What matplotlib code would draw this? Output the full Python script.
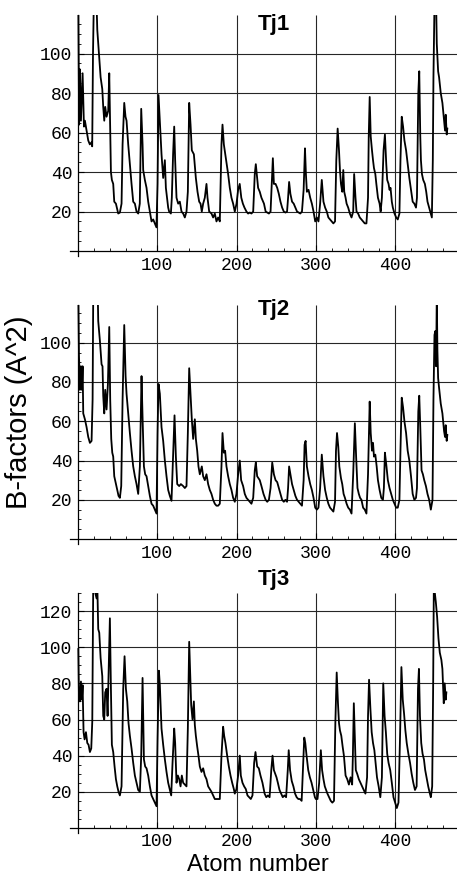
import matplotlib
matplotlib.use("Agg")
import matplotlib.pyplot as plt
from matplotlib.ticker import FixedLocator, MultipleLocator

# B-factor profiles (atom number, B in A^2)
tj1_atom = [
    0.5, 1.5, 2.5, 3.8, 5.9, 7.6, 8.8, 13, 15, 17,
    18, 19, 20, 23.5, 24.4, 25.6, 26.9, 28.6, 30.7, 31.9,
    33.2, 34.4, 36.1, 38.2, 39.5, 40.7, 41.6, 42.8, 44.5, 45.8,
    47.9, 50.8, 52.9, 55, 56.3, 58.4, 60, 61.3, 63.4, 65.5,
    67.6, 69.7, 71.8, 73.9, 76, 78, 79.8, 81.5, 82.3, 84.4,
    86.5, 88.6, 90.7, 92.8, 94.9, 97, 99, 100.4, 101.6, 103.3,
    105.4, 107.5, 109.6, 110.9, 113.8, 115, 117.2, 118.4, 120, 121.4,
    122.6, 124.3, 126.4, 128.5, 130.6, 132.7, 134.8, 136.9, 138.6, 140.3,
    142, 143.6, 146.2, 148.7, 150.8, 152.9, 154.6, 156.2, 157.9, 160,
    162.1, 163.4, 165.5, 168.4, 170.5, 172.6, 174.7, 176.8, 178.9, 181,
    182.3, 184, 186.5, 189.4, 191.5, 193.6, 195.7, 197.8, 200, 202,
    204, 206, 208, 210, 212.5, 214.6, 216.7, 218.8, 221, 223,
    224.3, 227.2, 229.3, 231.4, 234.6, 236.7, 238.7, 240.8, 242.9, 244.2,
    245.8, 247.1, 249.2, 251.3, 253.3, 255.4, 257.5, 259.6, 261.7, 263.7,
    265, 266.3, 267.9, 270, 272.1, 274.2, 276.3, 278.3, 280.4, 282.5,
    284.6, 286.3, 287.5, 288.7, 290.8, 292.9, 295, 297.1, 299.2, 301.3,
    303.3, 305.4, 307.5, 309.6, 311.7, 313.8, 315.8, 317.9, 320, 322.1,
    324.2, 325.8, 327.5, 329.2, 330.4, 331.7, 333.3, 334.6, 335.8, 337.5,
    338.8, 340.8, 342.9, 345, 347.1, 348.3, 350, 351.3, 353.3, 355.4,
    357.5, 359.6, 361.7, 363.8, 365.8, 366.7, 367.9, 369.2, 370.8, 372.1,
    373.3, 375, 376.3, 378.3, 380.4, 381.7, 383.3, 385.4, 387.1, 388.8,
    390, 391.7, 392.9, 394.2, 395.8, 397.1, 399.2, 401.3, 403.3, 405.4,
    406.7, 408.3, 410, 411.7, 413.8, 415.8, 417.9, 420, 422.1, 424.2,
    426.3, 427.5, 429.2, 430.4, 431.7, 432.5, 433.8, 435.4, 437.5, 439.2,
    440.8, 442.9, 445, 446.3, 447.5, 448.3, 449.6, 451.7, 452.5, 454.2,
    455.4, 457.5, 459.6, 461.7, 462.9, 463.8, 465, 465.8,
]
tj1_bfac = [
    125, 64, 92, 66, 90, 63, 66, 56, 54, 55,
    53, 100, 125, 125, 112, 105, 98, 88, 82, 73,
    66, 73, 68, 71, 90, 63, 40, 36, 34, 25,
    24, 19, 19.5, 24, 54, 75, 68, 66, 54, 44,
    34, 25, 24, 20, 19, 24, 72, 54, 41, 36,
    32, 25, 20, 15, 16, 14, 12, 34, 79, 66,
    49, 37, 46, 32, 22, 20, 19, 27, 49, 63,
    46, 27, 24, 25, 20, 19, 17, 20, 30, 75,
    64, 51, 49, 37, 30, 25, 24, 20, 24, 27,
    34, 27, 20, 19, 17, 19, 15, 17, 15, 54,
    64, 54, 47, 39, 32, 27, 24, 20, 24, 31,
    34, 27, 24, 22, 20, 19, 19.5, 19, 20, 39,
    44, 32, 30, 27, 24, 20, 19.5, 19, 20, 32,
    47, 34, 34, 32, 29, 25, 22, 20, 19.5, 20,
    27, 35, 29, 25, 24, 22, 20, 19.5, 19, 20,
    31, 52, 39, 30, 31, 27, 24, 20, 15, 17,
    15, 24, 36, 25, 22, 20, 17, 16, 15, 14,
    15, 46, 62, 51, 41, 34, 30, 41, 30, 27,
    24, 22, 19, 17, 20, 39, 27, 20, 19, 17,
    16, 15, 14, 14, 27, 58, 78, 58, 51, 46,
    42, 39, 34, 27, 24, 20, 27, 51, 59, 44,
    36, 34, 31, 32, 25, 22, 19, 17, 16, 19,
    46, 68, 63, 56, 51, 44, 37, 31, 25, 24,
    22, 27, 80, 91, 58, 46, 39, 36, 34, 30,
    25, 22, 19, 17, 46, 88, 125, 125, 105, 91,
    88, 80, 75, 66, 61, 69, 59, 62,
]

tj2_atom = [
    0.5, 1.3, 2.5, 3.8, 5, 5.9, 6.7, 8.8, 10.9, 13,
    15.1, 17.2, 18.5, 19.3, 25, 25.6, 27.7, 29.8, 31, 31.9,
    33.2, 34.4, 36.1, 37.8, 39.5, 40.7, 42, 43.3, 44.5, 45.8,
    47.9, 49.6, 51.2, 52.9, 54.6, 56.3, 58.4, 60.1, 61.3, 63.4,
    65.5, 67.6, 69.7, 71.8, 73.9, 76, 78.1, 80.2, 81.5, 83.2,
    84.8, 86.5, 88.6, 90.7, 92.8, 94.9, 97, 99.1, 100.4, 101.6,
    103.3, 105.4, 107.5, 109.6, 111.7, 113.8, 115.9, 118, 120.1, 121.8,
    123.5, 125.2, 127.7, 129.8, 132.7, 134.8, 136.9, 138.6, 140.3, 142,
    143.6, 145.3, 147.4, 148.7, 150.4, 152, 153.7, 156.2, 157.9, 160,
    162.1, 164.2, 166.3, 168.4, 170.5, 172.6, 174.7, 176.8, 178.9, 181,
    182.3, 184, 185.6, 187.3, 189.4, 191.5, 193.6, 195.7, 197.8, 199.9,
    202, 204.1, 205.8, 208.3, 210.4, 212.5, 214.6, 216.7, 218.8, 221,
    223, 224.3, 226, 229.3, 231.4, 234, 236.7, 238.7, 240.8, 242.9,
    245, 247.1, 249.2, 251.3, 253.3, 255.4, 257.5, 259.6, 261.7, 263.7,
    265, 266.3, 267.9, 270, 272.1, 274.2, 276.3, 278.3, 280.4, 282.5,
    284.6, 285.8, 287.1, 288.7, 290.8, 292.9, 295, 297.1, 299.2, 301.3,
    303.3, 305.4, 307.5, 309.6, 311.7, 313.8, 315.8, 317.9, 320, 322.1,
    324.2, 325.4, 326.7, 328.3, 329.6, 331.7, 333.3, 335, 336.7, 338.8,
    340.8, 342.9, 345, 347.1, 349.2, 350.8, 352.5, 354.2, 355.8, 357.5,
    359.6, 361.7, 363.8, 365.8, 367.9, 369.2, 370.8, 372.1, 373.3, 375,
    376.7, 378.3, 380.4, 382.5, 384.6, 385.8, 387.1, 388.8, 390.8, 392.9,
    395, 397.1, 399.2, 401.3, 403.3, 405.4, 406.7, 408.3, 410, 411.7,
    413.8, 415.8, 417.9, 420, 422.1, 424.2, 426.3, 427.5, 429.2, 430.4,
    431.7, 433.3, 435, 436.7, 438.8, 440.8, 442.9, 445, 447.1, 448.3,
    449.6, 450.8, 451.7, 452.5, 453.3, 454.2, 455.4, 457.5, 459.6, 461.7,
    462.9, 463.8, 465, 465.8,
]
tj2_bfac = [
    125, 94, 76, 88, 76, 88, 64, 61, 57, 52,
    49, 50, 71, 125, 125, 111, 101, 89, 88, 73,
    64, 76, 66, 79, 108, 71, 51, 44, 42, 32,
    28, 25, 22, 21, 27, 71, 109, 83, 74, 64,
    54, 45, 37, 32, 28, 23, 37, 83, 62, 37,
    33, 32, 27, 22, 18, 17, 15, 13, 54, 79,
    74, 57, 50, 40, 32, 25, 22, 19.5, 44, 63,
    42, 28, 27, 28, 27, 26, 27, 54, 87, 74,
    61, 51, 61, 51, 45, 37, 33, 37, 32, 30,
    33, 28, 25, 23, 20, 18, 17, 17, 18, 37,
    54, 44, 45, 37, 32, 28, 25, 21, 19, 23,
    33, 40, 30, 27, 23, 21, 20, 19, 18, 21,
    35, 39, 32, 30, 27, 23, 20, 19, 20, 26,
    39, 33, 30, 29, 26, 23, 20, 19, 20, 19,
    26, 37, 33, 28, 25, 22, 20, 19, 18, 17,
    30, 48, 50, 37, 32, 28, 25, 21, 16, 15,
    16, 26, 43, 32, 25, 21, 18, 16, 15, 14,
    19, 45, 54, 47, 37, 31, 28, 23, 21, 18,
    16, 15, 13, 33, 59, 42, 26, 23, 21, 20,
    16, 15, 13, 33, 70, 54, 45, 49, 42, 43,
    37, 30, 25, 21, 20, 26, 44, 38, 30, 26,
    23, 20, 18, 16, 16, 20, 45, 72, 67, 60,
    54, 45, 40, 32, 23, 20, 21, 26, 65, 73,
    57, 35, 33, 30, 27, 23, 20, 15, 20, 71,
    104, 106, 88, 125, 96, 82, 77, 69, 64, 55,
    52, 58, 50, 53,
]

tj3_atom = [
    0.5, 1.3, 2.5, 3.8, 5, 5.9, 7.1, 8.4, 10.1, 11.8,
    13.4, 15.1, 16.8, 18.1, 19.3, 23.5, 24.4, 25.6, 26.9, 28.6,
    30.7, 31.9, 33.2, 34.4, 36.1, 37.4, 39.1, 40.3, 41.6, 42.8,
    44.5, 46.2, 47.9, 49.6, 51.2, 52.9, 55, 57.1, 58.8, 60.5,
    62.2, 63.8, 65.5, 67.6, 69.7, 71.8, 73.9, 76, 78.1, 79.8,
    81.5, 83.2, 84.8, 86.5, 88.6, 90.7, 92.8, 94.9, 97, 99.1,
    100.4, 102.1, 103.3, 105.4, 107.5, 109.6, 111.7, 113.8, 115.9, 117.6,
    119.3, 121.4, 122.6, 124.3, 126, 127.7, 129.4, 131, 132.7, 134.8,
    136.9, 138.6, 140.3, 141.5, 142.8, 144.5, 146.2, 147.4, 148.7, 150.4,
    152, 153.7, 155.8, 157.9, 160, 162.1, 164.2, 166.3, 168.4, 170.5,
    172.6, 174.7, 176.8, 178.9, 181, 183.1, 184.4, 186, 188.2, 190.3,
    192.4, 194.5, 196.6, 197.8, 199.9, 202, 204.1, 205.4, 207.5, 209.6,
    211.7, 213.8, 215.9, 218, 220.1, 222.2, 223.9, 226, 228.1, 230.2,
    232.7, 235.4, 237.5, 239.6, 241.7, 243.8, 245.4, 247.1, 248.8, 250.4,
    252.1, 254.2, 256.3, 258.3, 260.4, 262.5, 264.6, 265.8, 267.5, 269.6,
    271.7, 273.8, 275.8, 277.9, 280, 282.1, 283.3, 285.4, 286.7, 288.3,
    290.4, 292.5, 294.6, 296.7, 298.8, 300, 302.1, 304.2, 306.3, 307.9,
    309.6, 311.3, 312.9, 314.6, 316.7, 318.8, 320.8, 322.9, 324.6, 326.3,
    327.9, 329.2, 330.4, 332.1, 333.8, 335.4, 337.5, 339.6, 341.7, 343.8,
    345.8, 346.7, 347.9, 349.2, 350.4, 352.1, 354.2, 356.3, 358.3, 360.4,
    362.5, 364.6, 365.8, 367.1, 368.8, 370.4, 372.1, 373.8, 375.4, 377.1,
    379.2, 381.3, 383.3, 385, 386.7, 388.3, 390, 391.7, 393.8, 395.8,
    397.9, 400, 402.1, 404.2, 406.3, 407.9, 409.6, 411.3, 412.9, 414.6,
    416.7, 418.8, 420.8, 422.9, 425, 427.1, 428.8, 430, 431.3, 432.9,
    434.6, 436.3, 437.9, 439.6, 441.7, 443.8, 445, 446.7, 447.9, 448.8,
    451.3, 452.9, 454.6, 456.3, 458.3, 459.6, 461.3, 462.5, 463.8, 464.6,
]
tj3_bfac = [
    99, 73, 70, 81, 71, 79, 53, 49, 53, 47,
    46, 42, 44, 59, 135, 127, 135, 110, 108, 94,
    84, 62, 60, 75, 77, 62, 95, 116, 77, 46,
    42, 34, 27, 23, 20, 18, 23, 77, 95, 77,
    70, 58, 51, 44, 36, 29, 25, 21, 20, 40,
    83, 38, 34, 33, 29, 23, 18, 16, 14, 12,
    49, 87, 79, 55, 46, 38, 31, 25, 21, 18,
    36, 55, 47, 25, 29, 27, 23, 29, 25, 24,
    23, 55, 103, 86, 68, 60, 70, 57, 51, 45,
    40, 34, 31, 33, 29, 27, 23, 21.5, 20, 18,
    16, 16, 16, 16, 40, 56, 51, 47, 40, 34,
    29, 25, 21.5, 19, 21.5, 29, 40, 29, 25, 23,
    21.5, 18, 17, 16, 18, 36, 42, 34, 33, 29,
    25, 19, 17, 18, 17, 32, 40, 32, 30, 28,
    25, 21, 19, 17, 18, 17, 32, 43, 32, 26,
    23, 19, 17, 16, 16, 15, 28, 50, 47, 40,
    32, 28, 25, 21, 17, 16, 16, 25, 43, 32,
    27, 23, 21, 19, 17, 15, 14, 15, 58, 86,
    69, 58, 54, 51, 45, 40, 29, 27, 24, 28,
    24, 40, 69, 49, 32, 30, 27, 25, 23, 21,
    19, 28, 62, 82, 66, 53, 47, 43, 36, 28,
    23, 17, 28, 80, 62, 53, 41, 36, 32, 25,
    17, 14, 11, 14, 53, 89, 71, 63, 54, 47,
    41, 36, 30, 25, 21, 23, 77, 88, 62, 47,
    41, 38, 32, 28, 23, 19, 17, 23, 77, 135,
    125, 117, 105, 97, 93, 88, 69, 80, 71, 75,
]

panel_names = ["Tj1", "Tj2", "Tj3"]
x_ticks = [100, 200, 300, 400]
y_ticks_12 = [20, 40, 60, 80, 100]
y_ticks_3 = [20, 40, 60, 80, 100, 120]

plt.rcParams["font.family"] = "Liberation Sans"

fig = plt.figure(figsize=(4.57, 8.76), dpi=100)
W, H = 457.0, 876.0

# (top px, bottom px, ymin, ymax, title baseline px)
layout = [
    (15, 256, -2.5, 119.5, 30),
    (305, 544, -2.5, 119.2, 315),
    (593, 833, -2.8, 130.0, 585),
]
series = [(tj1_atom, tj1_bfac), (tj2_atom, tj2_bfac), (tj3_atom, tj3_bfac)]
yticks_all = [y_ticks_12, y_ticks_12, y_ticks_3]

for i in range(3):
    top, bot, ymin, ymax, tbase = layout[i]
    ax = fig.add_axes([70 / W, 1 - bot / H, 387 / W, (bot - top) / H])
    ax.set_xlim(-10, 478)
    ax.set_ylim(ymin, ymax)

    yt = yticks_all[i]
    # grid only inside the first quadrant, like the original
    ax.hlines(yt, 0, 478, color="0.15", lw=0.8, zorder=1)
    ax.vlines(x_ticks, 0, ymax, color="0.15", lw=0.8, zorder=1)

    ax.plot(series[i][0], series[i][1], color="black", lw=1.3, zorder=3)

    for side in ("top", "right"):
        ax.spines[side].set_visible(False)
    ax.spines["left"].set_position(("data", 0))
    ax.spines["bottom"].set_position(("data", 0))
    ax.spines["left"].set_linewidth(0.9)
    ax.spines["bottom"].set_linewidth(0.9)

    ax.xaxis.set_major_locator(FixedLocator(x_ticks))
    ax.xaxis.set_minor_locator(MultipleLocator(20))
    ax.yaxis.set_major_locator(FixedLocator(yt))
    ax.yaxis.set_minor_locator(MultipleLocator(5))
    ax.tick_params(which="major", direction="in", length=4, width=0.8, labelsize=13, pad=4)
    ax.tick_params(which="minor", direction="in", length=2.5, width=0.6)
    for lab in ax.get_xticklabels() + ax.get_yticklabels():
        lab.set_fontfamily("Liberation Mono")

    fig.text(274 / W, 1 - tbase / H, panel_names[i], ha="center", va="baseline",
             fontsize=16, fontweight="bold")

fig.text(19 / W, 1 - 412 / H, "B-factors (A^2)", rotation=90, ha="center", va="center",
         fontsize=21)
fig.text(258 / W, 1 - 871 / H, "Atom number", ha="center", va="baseline", fontsize=17)

fig.savefig("out.png", dpi=100)
